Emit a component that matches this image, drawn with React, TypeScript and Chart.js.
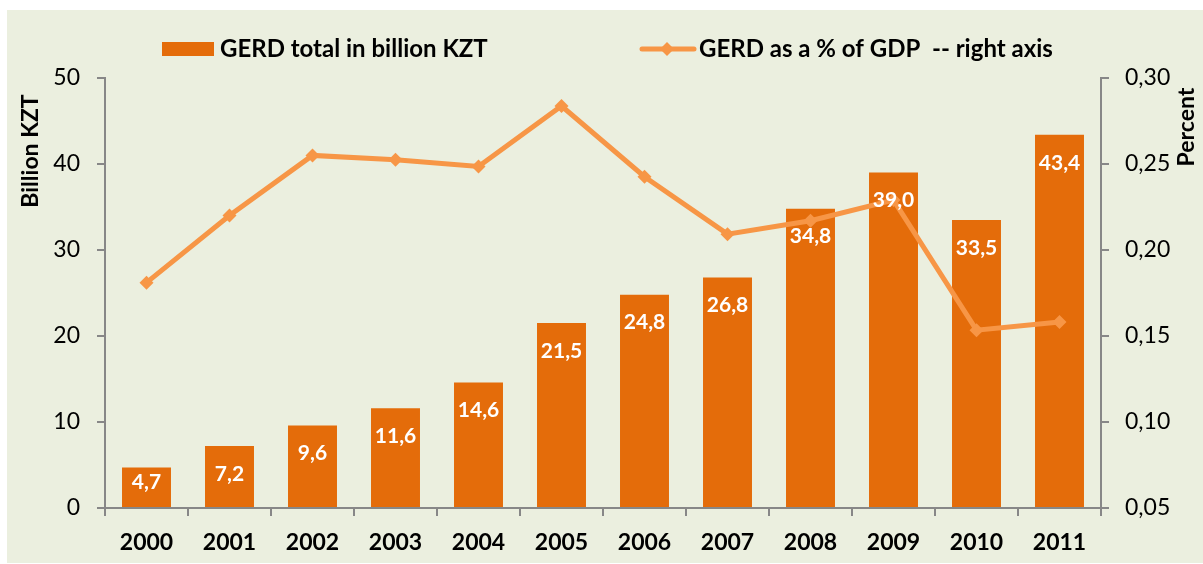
import React, { useEffect, useRef } from "react";
import { Chart, registerables } from "chart.js";

Chart.register(...registerables);

const years = ["2000", "2001", "2002", "2003", "2004", "2005", "2006", "2007", "2008", "2009", "2010", "2011"];
const gerdTotal = [4.7, 7.2, 9.6, 11.6, 14.6, 21.5, 24.8, 26.8, 34.8, 39.0, 33.5, 43.4];
const gerdPctGdp = [0.181, 0.220, 0.255, 0.2525, 0.2486, 0.2837, 0.2426, 0.2092, 0.2170, 0.229, 0.1534, 0.1582];
const barLabel = "GERD total in billion KZT";
const lineLabel = "GERD as a % of GDP  -- right axis";
const leftTitle = "Billion KZT";
const rightTitle = "Percent";

const FONT = "Lato, 'Open Sans', sans-serif";
const BAR_COLOR = "#E46C0A";
const LINE_COLOR = "#F79646";
const AXIS_COLOR = "#878787";
const PANEL = "#EBEFDF";

const fmt1 = (v: number) => v.toFixed(1).replace(".", ",");
const fmt2 = (v: number) => v.toFixed(2).replace(".", ",");

const decorPlugin = {
  id: "decor",
  beforeDraw(chart: any) {
    const ctx = chart.ctx;
    ctx.save();
    ctx.fillStyle = "#ffffff";
    ctx.fillRect(0, 0, chart.width, chart.height);
    ctx.fillStyle = PANEL;
    ctx.fillRect(7, 10, 1196, 553);
    ctx.restore();
  },
  afterDatasetsDraw(chart: any) {
    const ctx = chart.ctx;
    const meta = chart.getDatasetMeta(1);
    ctx.save();
    ctx.fillStyle = "#ffffff";
    ctx.font = `bold 21px ${FONT}`;
    ctx.textAlign = "center";
    ctx.textBaseline = "middle";
    meta.data.forEach((el: any, i: number) => {
      const cy = Math.min(el.y + 28, el.base - 25);
      ctx.fillText(fmt1(gerdTotal[i]), el.x, cy);
    });
    ctx.restore();
  },
  afterDraw(chart: any) {
    const ctx = chart.ctx;
    ctx.save();
    // axis titles
    ctx.fillStyle = "#000000";
    ctx.font = `bold 23px ${FONT}`;
    ctx.textAlign = "center";
    ctx.textBaseline = "middle";
    ctx.save();
    ctx.translate(31, 151);
    ctx.rotate(-Math.PI / 2);
    ctx.fillText(leftTitle, 0, 0);
    ctx.restore();
    ctx.save();
    ctx.translate(1187, 127);
    ctx.rotate(-Math.PI / 2);
    ctx.fillText(rightTitle, 0, 0);
    ctx.restore();

    // legend
    const ly = 49;
    ctx.fillStyle = BAR_COLOR;
    ctx.fillRect(162, 42, 52, 14);
    ctx.fillStyle = "#000000";
    ctx.font = `bold 24px ${FONT}`;
    ctx.textAlign = "left";
    ctx.textBaseline = "middle";
    ctx.fillText(barLabel, 220, ly);

    ctx.strokeStyle = LINE_COLOR;
    ctx.lineWidth = 5;
    ctx.lineCap = "round";
    ctx.beginPath();
    ctx.moveTo(642, ly);
    ctx.lineTo(694, ly);
    ctx.stroke();
    ctx.fillStyle = LINE_COLOR;
    ctx.beginPath();
    ctx.moveTo(667, ly - 7);
    ctx.lineTo(674, ly);
    ctx.lineTo(667, ly + 7);
    ctx.lineTo(660, ly);
    ctx.closePath();
    ctx.fill();
    ctx.fillStyle = "#000000";
    ctx.fillText(lineLabel, 699, ly);
    ctx.restore();
  },
};

export default function App() {
  const ref = useRef<HTMLCanvasElement | null>(null);
  useEffect(() => {
    let chart: Chart | null = null;
    let cancelled = false;
    const make = () => {
      if (cancelled || !ref.current) return;
      chart = new Chart(ref.current, {
        type: "bar",
        data: {
          labels: years,
          datasets: [
            {
              type: "line",
              label: lineLabel,
              data: gerdPctGdp,
              yAxisID: "y1",
              borderColor: LINE_COLOR,
              backgroundColor: LINE_COLOR,
              borderWidth: 5,
              pointStyle: "rectRot",
              pointRadius: 7,
              pointBackgroundColor: LINE_COLOR,
              pointBorderWidth: 0,
              tension: 0,
              order: 0,
            } as any,
            {
              type: "bar",
              label: barLabel,
              data: gerdTotal,
              yAxisID: "y",
              backgroundColor: BAR_COLOR,
              borderWidth: 0,
              barPercentage: 0.59,
              categoryPercentage: 1,
              order: 1,
            } as any,
          ],
        },
        options: {
          animation: false,
          responsive: true,
          maintainAspectRatio: false,
          layout: { padding: { left: 0, right: 0, top: 78, bottom: 0 } },
          plugins: {
            legend: { display: false },
            tooltip: { enabled: false },
            title: { display: false },
          },
          scales: {
            x: {
              grid: {
                offset: true,
                drawOnChartArea: false,
                drawTicks: true,
                tickLength: 8,
                color: AXIS_COLOR,
                lineWidth: 2,
              },
              border: { color: AXIS_COLOR, width: 2 },
              ticks: {
                color: "#000000",
                font: { family: FONT, size: 23, weight: "bold" },
                padding: 13,
                maxRotation: 0,
              },
              afterFit: (s: any) => {
                s.height = 56;
              },
            },
            y: {
              position: "left",
              min: 0,
              max: 50,
              grid: {
                drawOnChartArea: false,
                drawTicks: true,
                tickLength: 8,
                color: AXIS_COLOR,
                lineWidth: 2,
              },
              border: { color: AXIS_COLOR, width: 2 },
              ticks: {
                stepSize: 10,
                color: "#000000",
                font: { family: FONT, size: 23 },
                padding: 17,
              },
              afterFit: (s: any) => {
                s.width = 105;
              },
            },
            y1: {
              position: "right",
              min: 0.05,
              max: 0.3,
              grid: {
                drawOnChartArea: false,
                drawTicks: true,
                tickLength: 8,
                color: AXIS_COLOR,
                lineWidth: 2,
              },
              border: { color: AXIS_COLOR, width: 2 },
              ticks: {
                stepSize: 0.05,
                color: "#000000",
                font: { family: FONT, size: 23 },
                padding: 16,
                callback: (v: any) => fmt2(Number(v)),
              },
              afterFit: (s: any) => {
                s.width = 102;
              },
            },
          },
        } as any,
        plugins: [decorPlugin],
      });
    };
    const fonts: any = (document as any).fonts;
    if (fonts && fonts.load) {
      Promise.all([fonts.load(`bold 20px Lato`), fonts.load(`20px Lato`)])
        .catch(() => {})
        .then(make);
    } else {
      make();
    }
    return () => {
      cancelled = true;
      if (chart) chart.destroy();
    };
  }, []);
  return (
    <div style={{ position: "absolute", left: 0, top: 0, width: 1203, height: 564 }}>
      <canvas ref={ref} />
    </div>
  );
}
